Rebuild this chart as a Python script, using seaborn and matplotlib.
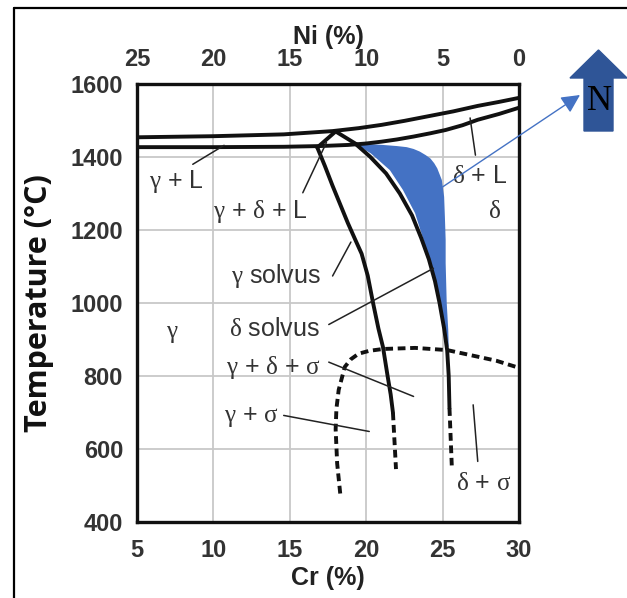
import matplotlib
matplotlib.use("Agg")
import matplotlib.pyplot as plt
from matplotlib.lines import Line2D
from matplotlib.patches import FancyArrow
import seaborn as sns
import pandas as pd

# curves, (Cr %, temperature degC)
liquidus_cr = [5, 10, 14.6, 17.8, 19.5, 21, 22.5, 24.1, 25.7, 27.3, 28.7, 30]
liquidus_t = [1454, 1457, 1462, 1471, 1479, 1488, 1499, 1512, 1525, 1540, 1551, 1562]

solidus_cr = [5, 10, 14.6, 17, 18.8, 20, 21, 22, 23.1, 24.2, 25.2, 26.3, 27.3, 28.7, 30]
solidus_t = [1427, 1427, 1428, 1430, 1433, 1437, 1442, 1448, 1456, 1465, 1474, 1487, 1502, 1518, 1535]

three_phase_cr = [16.8, 18.0, 19.4]
three_phase_t = [1426, 1470, 1434]

gamma_solvus_cr = [16.8, 17.3, 17.8, 18.3, 18.8, 19.3, 19.7, 20.1, 20.45, 20.8, 21.1, 21.4, 21.6, 21.75]
gamma_solvus_t = [1426, 1375, 1321, 1270, 1219, 1172, 1135, 1075, 1000, 930, 879, 800, 750, 700]
gamma_solvus_ext_cr = [21.75, 21.95]
gamma_solvus_ext_t = [700, 545]

delta_solvus_cr = [19.3, 20.25, 21.3, 22.2, 23.0, 23.6, 24.1, 24.5, 24.8, 25.1, 25.3, 25.4, 25.45]
delta_solvus_t = [1436, 1401, 1355, 1300, 1240, 1178, 1120, 1060, 1000, 930, 870, 800, 712]
delta_solvus_ext_cr = [25.45, 25.6]
delta_solvus_ext_t = [712, 555]

sigma_cr = [18.3, 18.1, 18.0, 18.05, 18.2, 18.6, 19.0, 19.5, 20.2, 21.1, 23.2, 25.3, 27.4, 28.5, 29.8]
sigma_t = [478, 560, 654, 710, 762, 825, 846, 861, 869, 874, 877, 871, 852, 842, 825]

# shaded band (upper/right edge top->bottom, left edge bottom->top)
band_right_cr = [19.15, 20.0, 21.1, 22.0, 22.65, 23.1, 23.5, 23.9, 24.2, 24.45, 24.65, 24.95,
                 25.1, 25.15, 25.2, 25.2, 25.27, 25.37, 25.4]
band_right_t = [1439, 1436, 1433, 1430, 1427, 1422, 1415, 1405, 1396, 1383, 1369, 1337,
                1291, 1236, 1173, 1109, 1000, 926, 880]
band_left_cr = [25.3, 25.1, 24.8, 24.5, 24.1, 23.75, 23.2, 22.4, 21.55, 20.3, 19.15]
band_left_t = [880, 930, 1000, 1060, 1120, 1173, 1246, 1310, 1364, 1410, 1439]

# phase labels (greek letters set upright in a serif face, as in the source figure)
labels = [r"$\mathrm{\gamma}$ + L", r"$\mathrm{\gamma}$ + $\mathrm{\delta}$ + L",
          r"$\mathrm{\gamma}$ solvus", r"$\mathrm{\delta}$ + L", r"$\mathrm{\delta}$",
          r"$\mathrm{\delta}$ solvus", r"$\mathrm{\gamma}$",
          r"$\mathrm{\gamma}$ + $\mathrm{\delta}$ + $\mathrm{\sigma}$",
          r"$\mathrm{\gamma}$ + $\mathrm{\sigma}$", r"$\mathrm{\delta}$ + $\mathrm{\sigma}$"]
label_cr = [7.6, 13.1, 14.1, 27.4, 28.4, 14.0, 7.3, 13.9, 12.5, 27.7]
label_t = [1334, 1251, 1073, 1348, 1251, 929, 917, 823, 687, 508]

# leader lines: (cr0, t0) -> (cr1, t1)
leader_cr0 = [8.65, 15.85, 17.8, 17.55, 26.8, 17.55, 14.6, 27.0]
leader_t0 = [1380, 1302, 1074, 941, 1507, 838, 692, 721]
leader_cr1 = [10.7, 17.4, 19.0, 24.4, 27.15, 23.1, 20.2, 27.3]
leader_t1 = [1432, 1440, 1167, 1095, 1405, 744, 648, 566]

cr_ticks = [5, 10, 15, 20, 25, 30]
ni_ticks = [25, 20, 15, 10, 5, 0]
t_ticks = [400, 600, 800, 1000, 1200, 1400, 1600]

sns.set_style("white")
plt.rcParams["font.family"] = ["Liberation Sans", "DejaVu Sans"]
plt.rcParams["mathtext.fontset"] = "custom"
plt.rcParams["mathtext.rm"] = "Liberation Serif"
plt.rcParams["mathtext.it"] = "Liberation Serif:italic"

fig = plt.figure(figsize=(6.27, 5.98), dpi=100)
ax = fig.add_axes([137 / 627, 1 - 522 / 598, 382 / 627, 438 / 598])

# grid
for c in cr_ticks[1:-1]:
    ax.axvline(c, color="#c8c8c8", lw=1.3, zorder=0)
for t in t_ticks[1:-1]:
    ax.axhline(t, color="#c8c8c8", lw=1.3, zorder=0)

blue = "#4472C4"
ax.fill(band_right_cr + band_left_cr, band_right_t + band_left_t, color=blue, lw=0, zorder=2)

solid = [(liquidus_cr, liquidus_t), (solidus_cr, solidus_t), (three_phase_cr, three_phase_t),
         (gamma_solvus_cr, gamma_solvus_t), (delta_solvus_cr, delta_solvus_t)]
for xs, ys in solid:
    df = pd.DataFrame({"Cr": xs, "T": ys})
    sns.lineplot(data=df, x="Cr", y="T", sort=False, estimator=None, color="#111111",
                 lw=2.8, ax=ax, zorder=3)

dashed = [(gamma_solvus_ext_cr, gamma_solvus_ext_t), (delta_solvus_ext_cr, delta_solvus_ext_t),
          (sigma_cr, sigma_t)]
for xs, ys in dashed:
    df = pd.DataFrame({"Cr": xs, "T": ys})
    sns.lineplot(data=df, x="Cr", y="T", sort=False, estimator=None, color="#111111",
                 lw=2.8, linestyle=(0, (2.0, 1.2)), ax=ax, zorder=3)

for a, b, c, d in zip(leader_cr0, leader_t0, leader_cr1, leader_t1):
    ax.plot([a, c], [b, d], color="#222222", lw=1.1, zorder=3)

for s, c, t in zip(labels, label_cr, label_t):
    ax.text(c, t, s, ha="center", va="center", fontsize=18, color="#333333", zorder=4)

ax.set_xlim(5, 30)
ax.set_ylim(400, 1600)
ax.set_xticks(cr_ticks)
ax.set_yticks(t_ticks)
ax.tick_params(length=0, labelsize=17, colors="#333333")
ax.tick_params(axis="x", pad=12)
ax.tick_params(axis="y", pad=10)
for lab in ax.get_xticklabels() + ax.get_yticklabels():
    lab.set_fontweight("bold")
for sp in ax.spines.values():
    sp.set_color("#111111")
    sp.set_linewidth(2.4)

ax.set_xlabel("Cr (%)", fontsize=18, fontweight="bold", color="#222222")
ax.xaxis.label.set_va("center")
ax.xaxis.set_label_coords(0.5, -0.128)
ax.set_ylabel("Temperature (°C)", fontsize=22, fontweight="bold", color="#111111",
              family=["Open Sans", "DejaVu Sans"])
ax.yaxis.label.set_va("center")
ax.yaxis.set_label_coords(-0.257, 0.5)

top = ax.secondary_xaxis("top", functions=(lambda x: 30 - x, lambda x: 30 - x))
top.set_xticks(ni_ticks)
top.tick_params(length=0, labelsize=17, colors="#333333", pad=9)
for lab in top.get_xticklabels():
    lab.set_fontweight("bold")
top.set_xlabel("Ni (%)", fontsize=18, fontweight="bold", color="#222222", labelpad=3)
top.spines["top"].set_visible(False)

# pointer to the north arrow
ax.annotate("", xy=(580 / 627, 1 - 95 / 598), xycoords="figure fraction",
            xytext=(25.0, 1318), textcoords="data",
            arrowprops=dict(arrowstyle="-|>", color=blue, lw=1.0, mutation_scale=28,
                            shrinkA=0, shrinkB=0), annotation_clip=False, zorder=5)

fig.add_artist(FancyArrow(598.5 / 627, 1 - 131 / 598, 0, 81 / 598, width=29 / 627,
                          head_width=57 / 627, head_length=28 / 598,
                          length_includes_head=True, color="#2F5597",
                          transform=fig.transFigure))
fig.text(600 / 627, 1 - 110 / 598, "N", ha="center", va="baseline", fontsize=25,
         family=["Liberation Serif", "DejaVu Serif"], color="black")

# outer frame
fig.add_artist(Line2D([14 / 627, 14 / 627], [0, 1 - 8 / 598], color="black", lw=1.6,
                      transform=fig.transFigure))
fig.add_artist(Line2D([14 / 627, 1], [1 - 8 / 598, 1 - 8 / 598], color="black", lw=1.6,
                      transform=fig.transFigure))

fig.savefig("out.png", dpi=100)
